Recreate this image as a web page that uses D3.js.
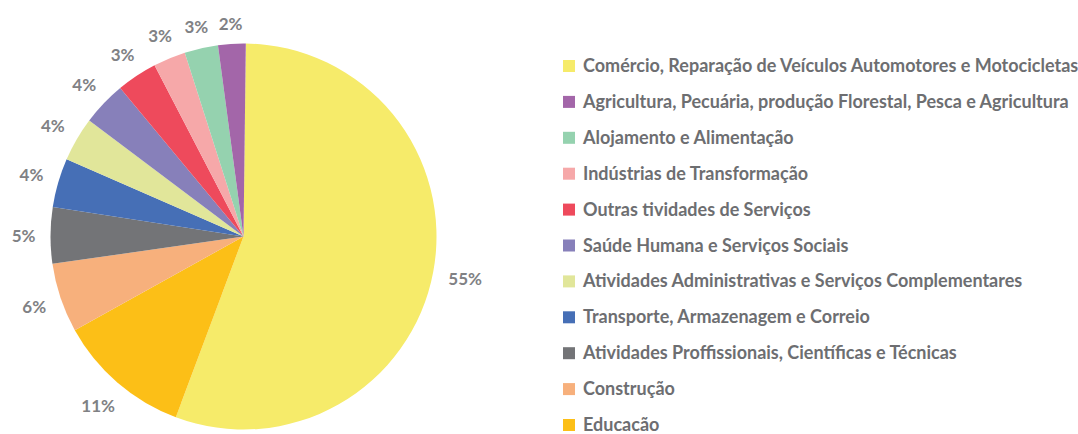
<!DOCTYPE html>
<html>
<head>
<meta charset="utf-8">
<script src="https://cdn.jsdelivr.net/npm/d3@7"></script>
<style>
  body { margin: 0; background: #fff; }
  svg text { font-family: Lato, "Open Sans", sans-serif; font-weight: 700; }
</style>
</head>
<body>
<div id="chart"></div>
<script>
'use strict'

// sectors in legend order (first one drawn from 12 o'clock, others counter-clockwise)
const sectors = [
  'Comércio, Reparação de Veículos Automotores e Motocicletas',
  'Agricultura, Pecuária, produção Florestal, Pesca e Agricultura',
  'Alojamento e Alimentação',
  'Indústrias de Transformação',
  'Outras tividades de Serviços',
  'Saúde Humana e Serviços Sociais',
  'Atividades Administrativas e Serviços Complementares',
  'Transporte, Armazenagem e Correio',
  'Atividades Proffissionais, Científicas e Técnicas',
  'Construção',
  'Educacão'
]
const shares = [55.4, 2.3, 2.8, 2.7, 3.4, 3.7, 3.7, 4.1, 4.7, 5.8, 11.2]
const colors = ['#f6eb6a', '#a366a9', '#95d2af', '#f6a8a9', '#ee4a5c', '#8780ba',
  '#e1e69a', '#466fb6', '#737477', '#f7b07c', '#fcbf17']

const width = 1078
const height = 434
const cx = 243.5
const cy = 236.5
const radius = 193

const svg = d3.select('#chart')
  .append('svg')
  .attr('width', width)
  .attr('height', height)

// clockwise drawing order: first sector, then the rest reversed
const order = [0].concat(d3.range(sectors.length - 1, 0, -1))
const data = order.map(i => ({ name: sectors[i], value: shares[i], color: colors[i] }))

const pie = d3.pie().sort(null).value(d => d.value)
  .startAngle(0.012).endAngle(2 * Math.PI + 0.012)
const arc = d3.arc().innerRadius(0).outerRadius(radius)
const arcs = pie(data)

const g = svg.append('g').attr('transform', `translate(${cx},${cy})`)

g.selectAll('path')
  .data(arcs)
  .enter()
  .append('path')
  .attr('d', arc)
  .attr('fill', d => d.data.color)

// percentage labels just outside the rim
g.selectAll('text.pct')
  .data(arcs)
  .enter()
  .append('text')
  .attr('class', 'pct')
  .attr('fill', '#808184')
  .attr('font-size', 17)
  .attr('text-anchor', 'middle')
  .attr('dominant-baseline', 'central')
  .text(d => Math.round(d.data.value) + '%')
  .each(function (d) {
    const a = (d.startAngle + d.endAngle) / 2
    const hw = this.getComputedTextLength() / 2
    const r = radius + 15 + Math.abs(Math.sin(a)) * hw + Math.abs(Math.cos(a)) * 5
    d3.select(this)
      .attr('x', Math.sin(a) * r)
      .attr('y', -Math.cos(a) * r)
  })

// legend
const legend = svg.append('g').attr('transform', 'translate(563,66)')
const rows = legend.selectAll('g')
  .data(sectors.map((s, i) => ({ name: s, color: colors[i] })))
  .enter()
  .append('g')
  .attr('transform', (d, i) => `translate(0,${i * 35.9})`)

rows.append('rect')
  .attr('x', 0)
  .attr('y', -6)
  .attr('width', 12)
  .attr('height', 12)
  .attr('fill', d => d.color)

rows.append('text')
  .attr('x', 20)
  .attr('y', -1)
  .attr('dominant-baseline', 'central')
  .attr('fill', '#6d6e71')
  .attr('font-size', 18)
  .text(d => d.name)
</script>
</body>
</html>
